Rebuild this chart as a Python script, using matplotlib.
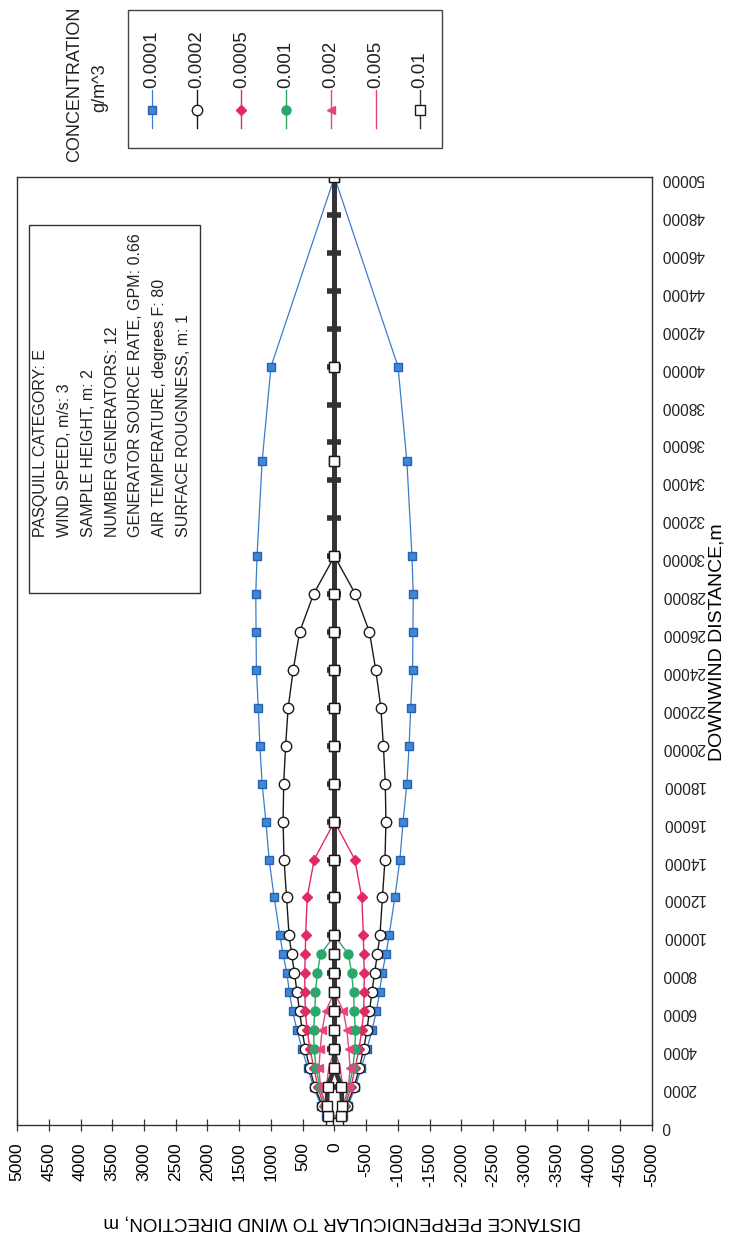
import numpy as np
import matplotlib
matplotlib.use("Agg")
import matplotlib.pyplot as plt
from matplotlib.lines import Line2D
from matplotlib.patches import Rectangle

plt.rcParams["font.family"] = ["Liberation Sans", "DejaVu Sans"]
plt.rcParams["axes.unicode_minus"] = False

# downwind distance grid, m
downwind = [100, 500, 1000, 2000, 3000, 4000, 5000, 6000, 7000, 8000, 9000, 10000,
            12000, 14000, 16000, 18000, 20000, 22000, 24000, 26000, 28000, 30000,
            35000, 40000, 50000]

# half widths of each concentration contour, m
w_0001 = [50, 130, 210, 330, 420, 510, 590, 660, 710, 750, 810, 860, 950, 1030,
          1080, 1140, 1175, 1200, 1230, 1235, 1240, 1220, 1140, 1000, 0]
w_0002 = [40, 110, 190, 310, 390, 460, 510, 550, 590, 630, 675, 715, 755, 795,
          810, 800, 770, 730, 650, 550, 330, 0]
w_0005 = [40, 100, 170, 260, 325, 385, 430, 460, 465, 470, 460, 455, 430, 320, 0]
w_001 = [30, 90, 150, 230, 290, 320, 330, 310, 300, 270, 220, 0]
w_002 = [30, 80, 140, 220, 245, 225, 195, 140, 0]
w_005 = [30, 70, 110, 130, 90, 0]
w_01 = [60, 110, 120, 110, 0, 0, 0, 0, 0, 0, 0, 0, 0, 0, 0, 0, 0, 0, 0, 0, 0, 0, 0, 0, 0]

concentrations = ["0.0001", "0.0002", "0.0005", "0.001", "0.002", "0.005", "0.01"]
widths = [w_0001, w_0002, w_0005, w_001, w_002, w_005, w_01]

# centre line tick marks
centre_ticks = list(range(2000, 50000, 2000))

params = ["PASQUILL CATEGORY: E",
          "WIND SPEED, m/s: 3",
          "SAMPLE HEIGHT, m: 2",
          "NUMBER GENERATORS: 12",
          "GENERATOR SOURCE RATE, GPM: 0.66",
          "AIR TEMPERATURE, degrees F: 80",
          "SURFACE ROUGNNESS, m: 1"]

styles = [
    dict(color="#3a7dcc", lw=0.9, marker="s", ms=5.5, mfc="#3d86d8", mec="#2a62b0"),
    dict(color="#1a1a1a", lw=1.0, marker="o", ms=7.5, mfc="white", mec="#1a1a1a"),
    dict(color="#e02a63", lw=1.0, marker="D", ms=5, mfc="#e02a63", mec="#e02a63"),
    dict(color="#2aa86a", lw=1.0, marker="o", ms=6.5, mfc="#2aa86a", mec="#2aa86a"),
    dict(color="#e8457e", lw=1.0, marker="<", ms=6, mfc="#e8457e", mec="#e8457e"),
    dict(color="#e8407a", lw=1.0, marker="None"),
    dict(color="#333333", lw=3.4, marker="s", ms=6.5, mfc="white", mec="#1a1a1a", mew=1.0),
]

W, H = 738, 1237
fig = plt.figure(figsize=(W / 100, H / 100), dpi=100)


def fx(x):
    return x / W


def fy(y):
    return 1 - y / H


ax = fig.add_axes([fx(17), fy(1125), 635 / W, 948 / H])
ax.set_xlim(5000, -5000)
ax.set_ylim(0, 50000)

# centre tick marks under everything
ax.plot([0] * len(centre_ticks), centre_ticks, ls="none", marker="_", ms=10,
        mew=4, color="#333333", zorder=1)

for w, st in zip(widths, styles):
    n = len(w)
    xs = downwind[:n]
    w = np.array(w)
    ax.plot(w, xs, zorder=2, **st)
    ax.plot(-w, xs, zorder=2, **st)

for s in ax.spines.values():
    s.set_color("#333333")
    s.set_linewidth(1.0)

ax.set_xticks(np.arange(-5000, 5001, 500))
ax.tick_params(axis="x", direction="inout", length=9, width=0.9, color="#333333",
               labelrotation=90, labelsize=12.5, pad=8)
ax.yaxis.tick_right()
ax.set_yticks(range(0, 50001, 2000))
ax.tick_params(axis="y", length=0, labelrotation=180, labelsize=11.2, pad=7)
for lab in ax.get_yticklabels():
    lab.set_color("#222222")

fig.text(fx(717), fy(642), "DOWNWIND DISTANCE,m", rotation=90, ha="center",
         va="center", fontsize=14, family=["Liberation Sans Narrow", "Liberation Sans"])
fig.text(fx(342), fy(1222), "DISTANCE PERPENDICULAR TO WIND DIRECTION, m", rotation=180,
         ha="center", va="center", fontsize=13.5,
         family=["Liberation Sans Narrow", "Liberation Sans"])

# parameter box
fig.add_artist(Rectangle((fx(29), fy(593)), (200 - 29) / W, (593 - 225) / H,
                         transform=fig.transFigure, fill=False, ec="#333333", lw=1.0))
for i, line in enumerate(params):
    fig.text(fx(41 + i * 23.7), fy(537), line, rotation=90, ha="center", va="bottom",
             fontsize=11.5, color="#222222")

# legend
fig.add_artist(Rectangle((fx(128), fy(148)), (442 - 128) / W, (148 - 10) / H,
                         transform=fig.transFigure, fill=False, ec="#444444", lw=1.0))
fig.text(fx(75), fy(84), "CONCENTRATION", rotation=90, ha="center", va="center",
         fontsize=13, color="#222222")
fig.text(fx(100), fy(88), "g/m^3", rotation=90, ha="center", va="center",
         fontsize=13, color="#222222")
for i, (c, st) in enumerate(zip(concentrations, styles)):
    x = 152 + i * 44.7
    lw = min(st["lw"], 1.0)
    fig.add_artist(Line2D([fx(x), fx(x)], [fy(90), fy(128)], transform=fig.transFigure,
                          color=st["color"], lw=lw))
    if st["marker"] != "None":
        fig.add_artist(Line2D([fx(x)], [fy(110)], transform=fig.transFigure,
                              ls="none", marker=st["marker"], ms=st["ms"],
                              mfc=st["mfc"], mec=st["mec"]))
    fig.text(fx(x), fy(88), c, rotation=90, ha="center", va="bottom", fontsize=13.5,
             color="#222222")

fig.savefig("out.png", dpi=100)
